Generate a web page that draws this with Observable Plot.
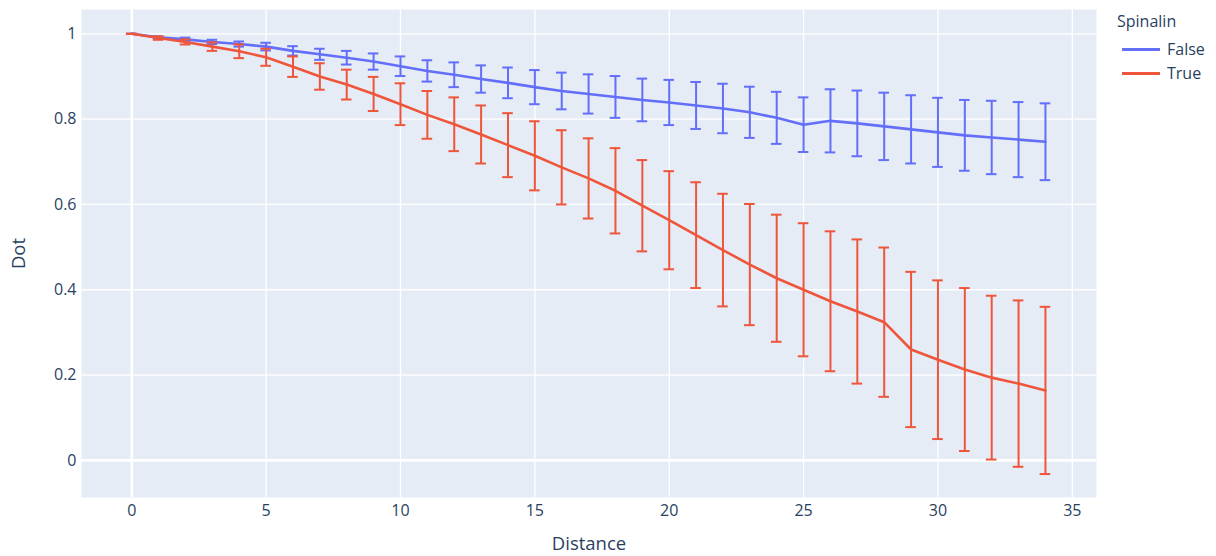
<!DOCTYPE html>
<html>
<head>
<meta charset="utf-8">
<script src="https://cdn.jsdelivr.net/npm/d3@7"></script>
<script src="https://cdn.jsdelivr.net/npm/@observablehq/plot@0.6"></script>
<style>
  html, body { margin: 0; padding: 0; background: #fff; }
  #wrap { position: relative; width: 1216px; height: 556px; font-family: "Open Sans", sans-serif; }
  #legend { position: absolute; left: 1117px; top: 10px; color: #2a3f5f; font-size: 16px; }
  #legend .title { margin-bottom: 5px; }
  #legend .item { display: flex; align-items: center; height: 24px; }
  #legend .sw { display: inline-block; width: 38px; height: 3px; margin-left: 5px; margin-right: 7px; }
  g[aria-label="x-axis label"], g[aria-label="y-axis label"] { font-size: 18.5px; }
</style>
</head>
<body>
<div id="wrap"><div id="chart"></div>
<div id="legend"></div></div>
<script>
const distance = d3.range(0, 35);
const seriesNames = ["False", "True"];
const seriesColors = ["#636EFA", "#EF553B"];
const falseMean = [1.0,0.992,0.987,0.981,0.976,0.970,0.960,0.952,0.944,0.935,0.924,0.913,0.904,0.894,0.885,0.875,0.866,0.859,0.852,0.845,0.839,0.832,0.825,0.816,0.803,0.787,0.796,0.790,0.783,0.776,0.769,0.762,0.757,0.752,0.747];
const falseErr = [0,0.002,0.004,0.005,0.006,0.009,0.011,0.013,0.016,0.019,0.023,0.025,0.029,0.032,0.036,0.040,0.043,0.046,0.049,0.050,0.053,0.055,0.058,0.060,0.061,0.064,0.074,0.077,0.079,0.080,0.081,0.083,0.086,0.088,0.090];
const trueMean = [1.0,0.990,0.981,0.970,0.959,0.945,0.923,0.900,0.881,0.859,0.835,0.810,0.788,0.764,0.739,0.714,0.687,0.661,0.632,0.597,0.563,0.528,0.493,0.459,0.427,0.400,0.373,0.349,0.324,0.260,0.236,0.213,0.194,0.180,0.164];
const trueErr = [0,0.004,0.006,0.010,0.016,0.020,0.024,0.031,0.035,0.040,0.049,0.056,0.063,0.068,0.075,0.081,0.087,0.094,0.100,0.107,0.115,0.124,0.132,0.142,0.149,0.156,0.164,0.169,0.175,0.182,0.186,0.191,0.192,0.195,0.196];
const xTicks = [0, 5, 10, 15, 20, 25, 30, 35];
const yTicks = [0, 0.2, 0.4, 0.6, 0.8, 1];

const data = [];
[[falseMean, falseErr], [trueMean, trueErr]].forEach(([m, e], s) => {
  distance.forEach((d, i) => data.push({series: seriesNames[s], Distance: d, Dot: m[i], lo: m[i] - e[i], hi: m[i] + e[i]}));
});

const colorScale = {domain: seriesNames, range: seriesColors};
const font = '"Open Sans", sans-serif';

const chart = Plot.plot({
  width: 1216, height: 556,
  marginLeft: 81, marginRight: 120, marginTop: 9, marginBottom: 59,
  style: {fontFamily: font, fontSize: "16px", color: "#2a3f5f", background: "transparent"},
  x: {domain: [-1.87, 35.9], ticks: xTicks, tickSize: 0, tickPadding: 7, label: "Distance", labelAnchor: "center", labelArrow: "none", labelOffset: 52},
  y: {domain: [-0.087, 1.057], ticks: yTicks, tickSize: 0, tickPadding: 5, label: "Dot", labelAnchor: "center", labelArrow: "none", labelOffset: 70, tickFormat: d => String(d)},
  color: colorScale,
  marks: [
    Plot.frame({fill: "#E5ECF6", stroke: null}),
    Plot.gridX(xTicks, {stroke: "#fff", strokeOpacity: 1, strokeWidth: 1.3}),
    Plot.gridY(yTicks, {stroke: "#fff", strokeOpacity: 1, strokeWidth: 1.3}),
    Plot.ruleX([0], {stroke: "#fff", strokeWidth: 2.6}),
    Plot.ruleY([0], {stroke: "#fff", strokeWidth: 2.6}),
    ...seriesNames.flatMap(s => {
      const sd = data.filter(d => d.series === s);
      return [
        Plot.ruleX(sd, {x: "Distance", y1: "lo", y2: "hi", stroke: "series", strokeWidth: 2}),
        Plot.ruleY(sd, {x1: "Distance", x2: "Distance", y: "hi", stroke: "series", strokeWidth: 2, insetLeft: -5.3, insetRight: -5.3}),
        Plot.ruleY(sd, {x1: "Distance", x2: "Distance", y: "lo", stroke: "series", strokeWidth: 2, insetLeft: -5.3, insetRight: -5.3}),
        Plot.line(sd, {x: "Distance", y: "Dot", stroke: "series", strokeWidth: 2.6})
      ];
    })
  ]
});
document.getElementById("chart").appendChild(chart);

const legend = document.getElementById("legend");
legend.innerHTML = '<div class="title">Spinalin</div>' + seriesNames.map((s, i) =>
  `<div class="item"><span class="sw" style="background:${seriesColors[i]}"></span><span>${s}</span></div>`).join("");
</script>
</body>
</html>
